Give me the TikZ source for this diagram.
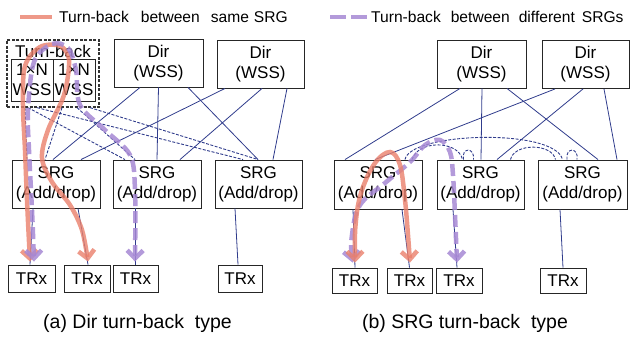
\documentclass[tikz,border=0pt]{standalone}
\usepackage{fontspec}
\setmainfont{Liberation Sans}
\usepackage{tikz}
\usetikzlibrary{arrows.meta}

\definecolor{navy}{RGB}{48,60,140}
\definecolor{salmon}{RGB}{234,128,108}
\definecolor{lavender}{RGB}{166,136,212}

\begin{document}
\begin{tikzpicture}[x=1pt, y=-1pt,
	box/.style={draw=black!85, line width=0.9pt, inner sep=0pt, align=center, font=\fontsize{17}{20}\selectfont},
	link/.style={navy, line width=0.8pt},
	dlink/.style={navy, line width=0.9pt, dash pattern=on 3pt off 1.5pt},
	same/.style={salmon, line width=4.5pt, opacity=0.8},
	diff/.style={lavender, line width=4.5pt, opacity=0.85, dash pattern=on 12pt off 5pt},
	tb/.style={arrows={Straight Barb[length=8pt, width=16pt]-Straight Barb[length=8pt, width=16pt]}}
	]
	\useasboundingbox (0,0) rectangle (632,340);
	
	% legend
	\node [anchor=west, inner sep=0pt, font=\fontsize{15.6}{20}\selectfont] (legA) at (59,17) {Turn-back\hspace{12pt}between\hspace{11pt}same\hspace{5pt}SRG};
	\draw [same] ([xshift=-39]legA.west) -- ([xshift=-7]legA.west);
	\node [anchor=west, inner sep=0pt, font=\fontsize{15.6}{20}\selectfont] (legB) at (371,17) {Turn-back\hspace{10pt}between\hspace{9pt}different\hspace{7pt}SRGs};
	\draw [diff, dash pattern=on 16pt off 5pt] ([xshift=-41]legB.west) -- ([xshift=-1]legB.west);
	
	% (a) Dir turn-back type
	\node [box, draw=black!80, line width=1.3pt, dash pattern=on 3pt off 1.5pt, minimum width=92, minimum height=67] (tbbox) at (53,73.5) {};
	\node [font=\fontsize{17}{20}\selectfont] (tblabel) at (53,51) {Turn-back};
	\node [box, minimum width=42, minimum height=42] (wssL) at (32,80) {1×N\\WSS};
	\node [box, minimum width=42, minimum height=42] (wssR) at (74,80) {1×N\\WSS};
	\node [box, minimum width=89, minimum height=48] (dirA1) at (158.5,63) {Dir\\(WSS)};
	\node [box, minimum width=87, minimum height=48] (dirA2) at (260.5,64) {Dir\\(WSS)};
	\node [box, minimum width=88, minimum height=48] (srgA1) at (56,184) {SRG\\(Add/drop)};
	\node [box, minimum width=88, minimum height=48] (srgA2) at (157,184) {SRG\\(Add/drop)};
	\node [box, minimum width=87, minimum height=48] (srgA3) at (258.5,184) {SRG\\(Add/drop)};
	\node [box, minimum width=47, minimum height=27] (trxA1) at (31.5,278.5) {TRx};
	\node [box, minimum width=46, minimum height=27] (trxA2) at (87,278.5) {TRx};
	\node [box, minimum width=45, minimum height=27] (trxA3) at (135.5,278.5) {TRx};
	\node [box, minimum width=44, minimum height=27] (trxA4) at (240,278.5) {TRx};
	
	\draw [link] ([xshift=-18.5]dirA1.south) -- ([xshift=-3]srgA1.north);
	\draw [link] (dirA1.south) -- (srgA2.north);
	\draw [link] ([xshift=29.5]dirA1.south) -- ([xshift=-0.5]srgA3.north);
	\draw [link] ([xshift=-35.5]dirA2.south) -- ([xshift=25]srgA1.north);
	\draw [link] ([xshift=1.5]dirA2.south) -- ([xshift=23]srgA2.north);
	\draw [link] ([xshift=26.5]dirA2.south) -- ([xshift=14.5]srgA3.north);
	
	\draw [dlink] ([xshift=-28]tbbox.south) -- ([xshift=-29]srgA1.north);
	\draw [dlink] ([xshift=-25]tbbox.south) -- ([xshift=-32]srgA2.north);
	\draw [dlink] ([xshift=-16]tbbox.south) -- ([xshift=-15.5]srgA3.north);
	\draw [dlink] ([xshift=9]tbbox.south) -- ([xshift=-11]srgA1.north);
	\draw [dlink] ([xshift=24]tbbox.south) -- ([xshift=-22]srgA2.north);
	\draw [dlink] ([xshift=37]tbbox.south) -- ([xshift=-0.5]srgA3.north);
	
	\draw [link] ([xshift=-23]srgA1.south) -- ([xshift=-1.5]trxA1.north);
	\draw [link] ([xshift=22]srgA1.south) -- ([xshift=1]trxA2.north);
	\draw [link] ([xshift=-22]srgA2.south) -- ([xshift=-0.5]trxA3.north);
	\draw [link] ([xshift=-23.5]srgA3.south) -- ([xshift=-2]trxA4.north);
	
	\coordinate (ra1) at ([xshift=-1.5pt, yshift=3pt]trxA1.north);
	\coordinate (ra2) at ([xshift=1pt, yshift=3pt]trxA2.north);
	\coordinate (pa1) at ([xshift=2.5pt, yshift=3pt]trxA1.north);
	\coordinate (pa3) at ([xshift=-0.5pt, yshift=3pt]trxA3.north);
	\draw [same, tb] plot [smooth, tension=0.55] coordinates {(ra1) (27,200) (25,150) (23,105) (25,66) (40,47) (60,46) (69,60) (64,95) (48,130) (42,158) (52,182) (70,205) (82,230) (ra2)};
	\draw [diff, tb] plot [smooth, tension=0.55] coordinates {(pa1) (32,210) (29,150) (28,110) (34,62) (52,44) (68,48) (76,70) (80,105) (105,130) (130,155) (135,190) (pa3)};
	
	\node [font=\fontsize{19.5}{22}\selectfont] (capA) at (137.5,323) {(a) Dir turn-back\ \ type};
	
	% (b) SRG turn-back type
	\node [box, minimum width=89, minimum height=48] (dirB1) at (481.5,64) {Dir\\(WSS)};
	\node [box, minimum width=87, minimum height=48] (dirB2) at (585.5,64.5) {Dir\\(WSS)};
	\node [box, minimum width=88, minimum height=49] (srgB1) at (378,184.5) {SRG\\(Add/drop)};
	\node [box, minimum width=87, minimum height=49] (srgB2) at (480.5,184.5) {SRG\\(Add/drop)};
	\node [box, minimum width=89, minimum height=49] (srgB3) at (582.5,184.5) {SRG\\(Add/drop)};
	\node [box, minimum width=45, minimum height=25] (trxB1) at (354.5,280.5) {TRx};
	\node [box, minimum width=45, minimum height=25] (trxB2) at (409.5,280.5) {TRx};
	\node [box, minimum width=46, minimum height=25] (trxB3) at (459,280.5) {TRx};
	\node [box, minimum width=46, minimum height=25] (trxB4) at (563,280.5) {TRx};
	
	\draw [link] ([xshift=-21.5]dirB1.south) -- ([xshift=-33]srgB1.north);
	\draw [link] ([xshift=0.5]dirB1.south) -- ([xshift=0.5]srgB2.north);
	\draw [link] ([xshift=25.5]dirB1.south) -- ([xshift=15.5]srgB3.north);
	\draw [link] ([xshift=-30.5]dirB2.south) -- ([xshift=-3]srgB1.north);
	\draw [link] ([xshift=-2.5]dirB2.south) -- ([xshift=16.5]srgB2.north);
	\draw [link] ([xshift=18.5]dirB2.south) -- ([xshift=34.5]srgB3.north);
	
	\draw [dlink] ([xshift=27]srgB1.north) .. controls (410,132) and (555,128) .. ([xshift=-20]srgB3.north);
	\draw [dlink] ([xshift=34]srgB1.north) .. controls (418,140) and (458,140) .. ([xshift=-18]srgB2.north);
	\draw [dlink] ([xshift=30]srgB2.north) .. controls (514,143) and (552,143) .. ([xshift=-27]srgB3.north);
	\draw [dlink] ([xshift=-17]srgB2.north) .. controls (461,147) and (475,147) .. ([xshift=-7]srgB2.north);
	\draw [dlink] ([xshift=-15.5]srgB3.north) .. controls (565,147) and (579,147) .. ([xshift=-5.5]srgB3.north);
	
	\draw [link] ([xshift=-25]srgB1.south) -- ([xshift=0.5]trxB1.north);
	\draw [link] ([xshift=24]srgB1.south) -- (trxB2.north);
	\draw [link] ([xshift=-27.5]srgB2.south) -- ([xshift=-2]trxB3.north);
	\draw [link] ([xshift=-22.5]srgB3.south) -- (trxB4.north);
	
	\coordinate (rb1) at ([xshift=0.5pt, yshift=5pt]trxB1.north);
	\coordinate (rb2) at ([xshift=0.5pt, yshift=5pt]trxB2.north);
	\coordinate (pb1) at ([xshift=-2pt, yshift=5pt]trxB1.north);
	\coordinate (pb3) at ([xshift=-2pt, yshift=5pt]trxB3.north);
	\draw [diff, tb] plot [smooth, tension=0.6] coordinates {(pb1) (352,235) (360,205) (385,183) (410,162) (425,145) (440,140) (450,152) (453,175) (455,215) (pb3)};
	\draw [same, tb] plot [smooth, tension=0.6] coordinates {(rb1) (356,220) (362,190) (375,163) (390,152) (400,165) (405,200) (408,235) (rb2)};
	
	\node [font=\fontsize{19.5}{22}\selectfont] (capB) at (465,323) {(b) SRG turn-back\ \ type};
\end{tikzpicture}
\end{document}
